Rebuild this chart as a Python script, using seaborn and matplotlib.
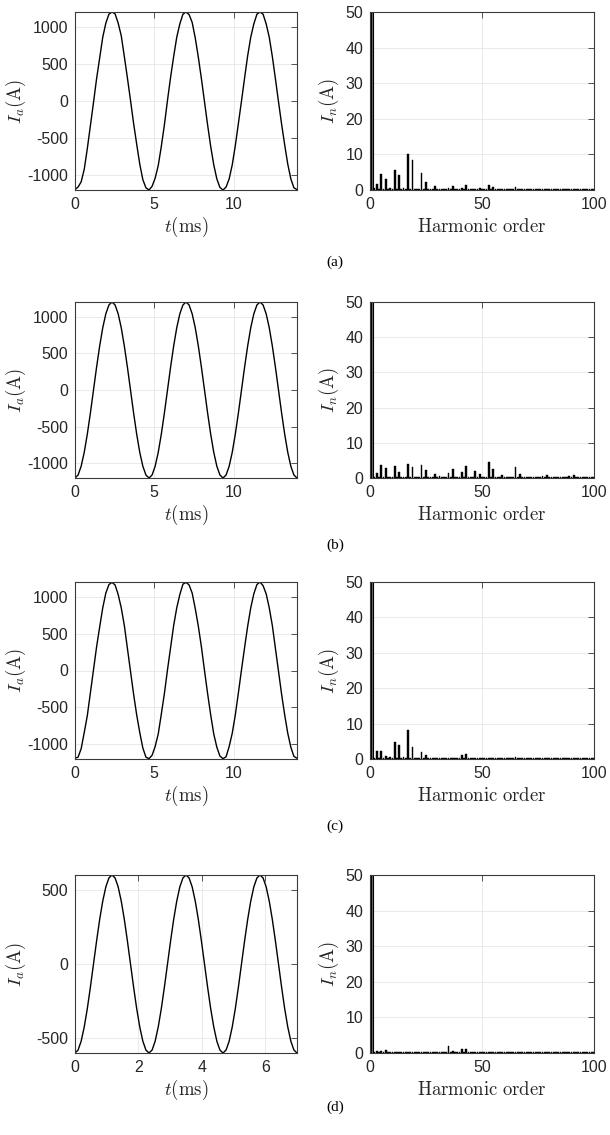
import numpy as np
import pandas as pd
import matplotlib
matplotlib.use("Agg")
import matplotlib.pyplot as plt
import seaborn as sns

sns.set_theme(style="white")
plt.rcParams["font.family"] = ["Liberation Sans", "DejaVu Sans"]
plt.rcParams["mathtext.fontset"] = "cm"
plt.rcParams["axes.unicode_minus"] = False

# ---------------- waveform data ----------------
wave_a = [-1195, -1160, -1090, -920, -640, -330, -20, 300, 580, 860, 1050, 1170,
          1200, 1175, 1050, 880, 600, 310, 10, -300, -580, -850, -1060, -1170,
          -1200, -1150, -1040, -870, -610, -320, 10, 320, 600, 860, 1040, 1170,
          1200, 1165, 1060, 850, 590, 300, -10, -320, -610, -860, -1050, -1165,
          -1200, -1160, -1050, -860, -600, -300, 0, 310, 610, 860, 1040, 1170,
          1200, 1170, 1040, 860, 600, 300, -10, -310, -590, -850, -1050, -1170, -1195]
wave_b = [-1200, -1159, -1039, -849, -600, -311, 0, 311, 600, 849, 1039, 1159,
          1200, 1159, 1039, 849, 600, 311, 0, -311, -600, -849, -1039, -1159,
          -1200, -1159, -1039, -849, -600, -311, 0, 311, 600, 849, 1039, 1159,
          1200, 1159, 1039, 849, 600, 311, 0, -311, -600, -849, -1039, -1159,
          -1200, -1159, -1039, -849, -600, -311, 0, 311, 600, 849, 1039, 1159,
          1200, 1159, 1039, 849, 600, 311, 0, -311, -600, -849, -1039, -1159, -1200]
wave_c = [-1190, -1175, -1060, -840, -610, -300, 10, 320, 590, 850, 1050, 1165,
          1195, 1160, 1030, 850, 610, 300, -10, -320, -600, -840, -1050, -1175,
          -1195, -1150, -1030, -860, -590, -310, 10, 310, 610, 850, 1030, 1170,
          1195, 1160, 1050, 840, 600, 320, 0, -310, -600, -860, -1040, -1160,
          -1195, -1170, -1030, -850, -600, -300, 10, 310, 600, 850, 1040, 1165,
          1200, 1150, 1040, 850, 610, 300, -10, -320, -600, -850, -1040, -1165, -1190]
wave_d = [-600, -580, -520, -424, -300, -155, 0, 155, 300, 424, 520, 580,
          600, 580, 520, 424, 300, 155, 0, -155, -300, -424, -520, -580,
          -600, -580, -520, -424, -300, -155, 0, 155, 300, 424, 520, 580,
          600, 580, 520, 424, 300, 155, 0, -155, -300, -424, -520, -580,
          -600, -580, -520, -424, -300, -155, 0, 155, 300, 424, 520, 580,
          600, 580, 520, 424, 300, 155, 0, -155, -300, -424, -520, -580, -600]
t_end_abc = 14.0
t_end_d = 7.0

# ---------------- harmonic spectra (orders and magnitudes) ----------------
fund_abc = 1200.0
fund_d = 600.0
floor_val = 0.15

harm_orders_a = [2, 3, 5, 7, 9, 11, 13, 15, 17, 19, 21, 23, 25, 29, 31, 35, 37, 41, 43,
                 47, 49, 53, 55, 59, 65, 67, 77, 79, 91]
harm_vals_a = [0.5, 1.8, 4.5, 3.0, 0.5, 5.6, 4.1, 0.5, 10.1, 8.5, 0.3, 4.9, 2.2, 1.0, 0.3,
               0.5, 1.0, 0.6, 1.3, 0.4, 0.5, 1.3, 0.9, 0.3, 0.8, 0.3, 0.2, 0.2, 0.2]

harm_orders_b = [2, 3, 5, 7, 9, 11, 13, 15, 17, 19, 23, 25, 29, 31, 35, 37, 41, 43, 47, 49,
                 53, 55, 59, 65, 67, 71, 73, 77, 79, 83, 89, 91, 95]
harm_vals_b = [0.4, 1.5, 3.7, 2.9, 0.4, 3.4, 1.7, 0.3, 4.0, 3.1, 3.6, 2.4, 1.2, 0.6, 1.4,
               2.5, 1.6, 3.3, 2.1, 1.1, 4.5, 2.6, 0.9, 3.0, 1.2, 0.3, 0.3, 0.7, 0.9, 0.2,
               0.5, 0.8, 0.2]

harm_orders_c = [2, 3, 5, 7, 9, 11, 13, 15, 17, 19, 23, 25, 29, 35, 37, 41, 43, 47, 49,
                 53, 55, 59, 65, 67, 77, 91]
harm_vals_c = [0.4, 2.3, 2.4, 0.8, 0.5, 4.9, 4.0, 0.5, 8.2, 3.5, 2.1, 1.1, 0.3, 0.3, 0.4,
               1.0, 1.3, 0.3, 0.4, 0.4, 0.4, 0.3, 0.5, 0.3, 0.2, 0.2]

harm_orders_d = [2, 3, 5, 7, 11, 35, 37, 41, 43, 65]
harm_vals_d = [0.3, 0.5, 0.6, 0.8, 0.3, 1.9, 0.6, 1.0, 1.0, 0.4]

orders_all = list(range(0, 101))

panel_letters = ["(a)", "(b)", "(c)", "(d)"]

# ---------------- layout (pixels) ----------------
W, H = 610, 1135
fig = plt.figure(figsize=(W / 100, H / 100), dpi=100)

rows = [(12, 190), (302, 478), (582, 759), (875, 1053)]
letter_y = [262, 545, 826, 1107]
left_x = (75, 297)
right_x = (370, 594)
XLABEL_OFF = 37        # px below bottom spine (label centre)
YLABEL_RIGHT_L = 28    # px, right edge of left-panel y label
YLABEL_RIGHT_R = 341   # px, right edge of right-panel y label

AX_COL = "#3a3a3a"
GRID_COL = "#e6e6e6"
TICK_FS = 11.5
LAB_FS = 13.5


def rect(x0, x1, top, bot):
    return [x0 / W, 1 - bot / H, (x1 - x0) / W, (bot - top) / H]


def style(ax):
    for s in ax.spines.values():
        s.set_color(AX_COL)
        s.set_linewidth(0.8)
    ax.tick_params(direction="in", length=4, width=0.6, colors=AX_COL,
                   labelsize=TICK_FS, top=True, right=True,
                   labelcolor="#262626", pad=5)
    ax.grid(True, color=GRID_COL, linewidth=0.6)
    ax.set_axisbelow(True)


def place_labels(ax, x0, x1, top, bot, ylab_right):
    h = bot - top
    w = x1 - x0
    ax.xaxis.set_label_coords(0.5, -XLABEL_OFF / h)
    ax.xaxis.label.set_va("center")
    ax.yaxis.set_label_coords((ylab_right - x0) / w, 0.5)


waves = [wave_a, wave_b, wave_c, wave_d]
spectra = [(harm_orders_a, harm_vals_a), (harm_orders_b, harm_vals_b),
           (harm_orders_c, harm_vals_c), (harm_orders_d, harm_vals_d)]

for i in range(4):
    top, bot = rows[i]
    # ---- waveform ----
    axL = fig.add_axes(rect(left_x[0], left_x[1], top, bot))
    t_end = t_end_d if i == 3 else t_end_abc
    amp = 600 if i == 3 else 1200
    y = waves[i]
    t = np.linspace(0, t_end, len(y))
    dfw = pd.DataFrame({"t": t, "i": y})
    sns.lineplot(data=dfw, x="t", y="i", ax=axL, color="black", linewidth=1.0,
                 estimator=None, sort=False)
    axL.set_xlim(0, t_end)
    axL.set_ylim(-amp, amp)
    if i == 3:
        axL.set_xticks([0, 2, 4, 6])
        axL.set_yticks([-500, 0, 500])
    else:
        axL.set_xticks([0, 5, 10])
        axL.set_yticks([-1000, -500, 0, 500, 1000])
    style(axL)
    axL.set_xlabel(r"$t(\mathrm{ms})$", fontsize=LAB_FS, color="#262626")
    axL.set_ylabel(r"$I_a(\mathrm{A})$", fontsize=LAB_FS, color="#262626")
    place_labels(axL, left_x[0], left_x[1], top, bot, YLABEL_RIGHT_L)

    # ---- spectrum ----
    axR = fig.add_axes(rect(right_x[0], right_x[1], top, bot))
    o_list, v_list = spectra[i]
    mags = {o: floor_val for o in orders_all}
    mags[0] = 0.0
    for o, v in zip(o_list, v_list):
        mags[o] = v
    dfh = pd.DataFrame({"order": [o for o in orders_all if o != 1],
                        "mag": [mags[o] for o in orders_all if o != 1]})
    sns.barplot(data=dfh, x="order", y="mag", native_scale=True, width=0.8,
                color="black", edgecolor="black", linewidth=0.3, ax=axR,
                errorbar=None, saturation=1)
    dff = pd.DataFrame({"order": [1], "mag": [fund_d if i == 3 else fund_abc]})
    sns.barplot(data=dff, x="order", y="mag", native_scale=True, width=0.8,
                color="#6e6e6e", edgecolor="black", linewidth=0.8, ax=axR,
                errorbar=None, saturation=1)
    axR.set_xlim(0, 100)
    axR.set_ylim(0, 50)
    axR.set_xticks([0, 50, 100])
    axR.set_xticklabels(["0", "50", "100"])
    axR.set_yticks([0, 10, 20, 30, 40, 50])
    style(axR)
    axR.set_xlabel(r"$\mathrm{Harmonic\ order}$", fontsize=LAB_FS, color="#262626")
    axR.set_ylabel(r"$I_n(\mathrm{A})$", fontsize=LAB_FS, color="#262626")
    place_labels(axR, right_x[0], right_x[1], top, bot, YLABEL_RIGHT_R)

    fig.text(335 / W, 1 - letter_y[i] / H, panel_letters[i], ha="center", va="center",
             fontsize=11, family=["Liberation Serif", "DejaVu Serif"], color="black")

fig.savefig("out.png", dpi=100)
